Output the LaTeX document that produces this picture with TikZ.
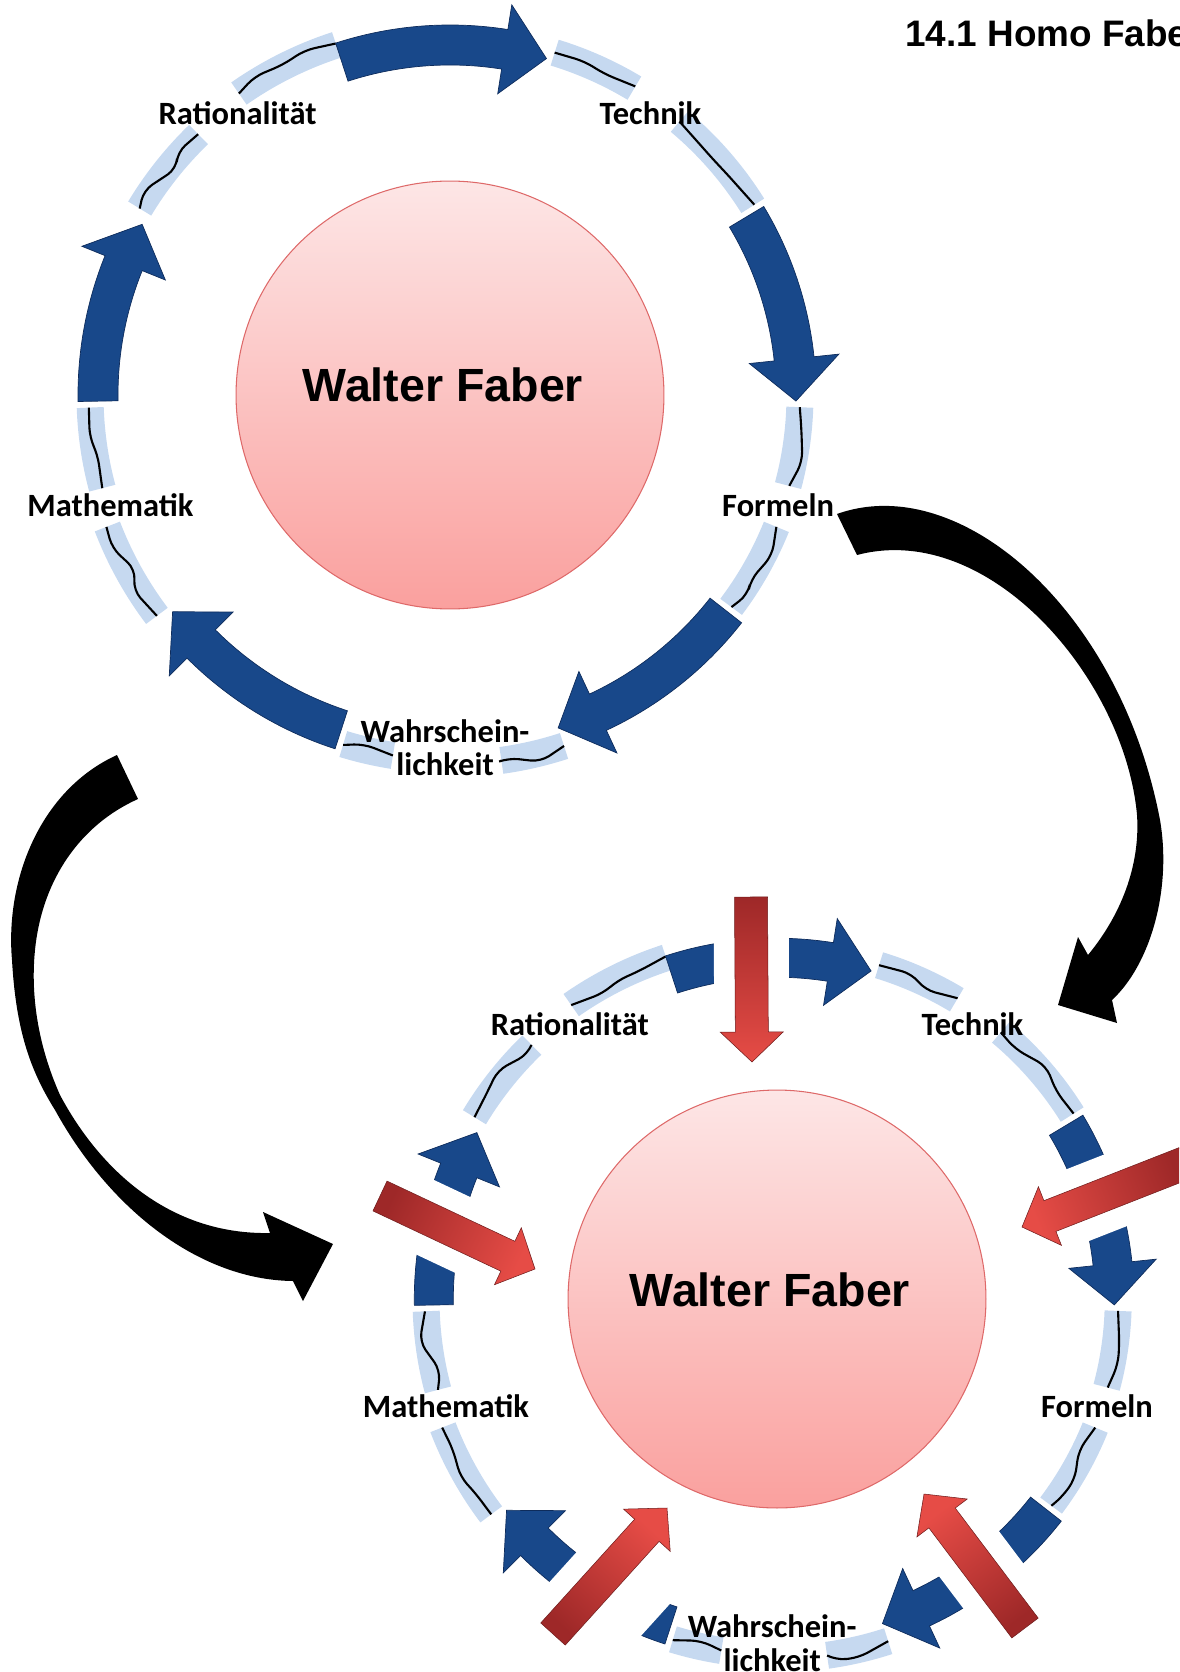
\documentclass[tikz,border=0pt]{standalone}
\usepackage{fontspec}
\newfontfamily\calibri{Carlito}
\newfontfamily\arial{Liberation Sans}
\usepackage{tikz}
\usetikzlibrary{calc,positioning,decorations.pathmorphing}

\definecolor{cycblue}{RGB}{24,72,138}
\definecolor{cycblueedge}{RGB}{14,44,92}
\definecolor{squigblue}{RGB}{198,217,240}
\definecolor{pinktop}{RGB}{253,230,230}
\definecolor{pinkbot}{RGB}{250,160,158}
\definecolor{pinkedge}{RGB}{222,105,105}
\definecolor{reddark}{RGB}{158,40,40}
\definecolor{redlight}{RGB}{230,76,70}

% arrow of the cycle: tail angle, tip angle, radius
\newcommand{\cycarrow}[3]{%
  \path[cyc] (#1:#3+20) arc[start angle=#1,end angle=#2+7,radius=#3+20] -- (#2+7:#3+45) -- (#2:#3) -- (#2+7:#3-45) -- (#2+7:#3-20) arc[start angle=#2+7,end angle=#1,radius=#3-20] -- cycle;}
% squiggle between arrow and label: from angle, to angle, radius
\newcommand{\squig}[3]{%
  \draw[squigband] (#1:#3) arc[start angle=#1,end angle=#2,radius=#3];
  \draw[squigline] (#1:#3) arc[start angle=#1,end angle=#2,radius=#3];}
% red arrow into the core: tail, tip, shading angle
\newcommand{\inarrow}[3]{%
  \coordinate (nk) at ($(#2)!0.6cm!(#1)$);
  \path[inred,shading angle=#3] ($(#1)!0.33cm!90:(#2)$) -- ($(nk)!0.33cm!90:(#2)$) -- ($(nk)!0.63cm!90:(#2)$) -- (#2) -- ($(nk)!0.63cm!-90:(#2)$) -- ($(nk)!0.33cm!-90:(#2)$) -- ($(#1)!0.33cm!-90:(#2)$) -- cycle;}

\begin{document}
\begin{tikzpicture}[x=0.02cm,y=-0.02cm]
	\tikzstyle{cyc} = [fill=cycblue,draw=cycblueedge,line width=0.4pt]
	\tikzstyle{squigband} = [draw=squigblue,line width=0.54cm]
	\tikzstyle{squigline} = [draw=black,line width=1.2pt,decorate,decoration={random steps,segment length=0.5cm,amplitude=0.19cm},rounded corners=0.2cm]
	\tikzstyle{lbl} = [font=\calibri\bfseries\fontsize{18.5}{19}\selectfont,inner sep=0pt,align=center]
	\tikzstyle{core} = [circle,inner sep=0pt,top color=pinktop,bottom color=pinkbot,draw=pinkedge,line width=0.6pt]
	\tikzstyle{corename} = [font=\arial\bfseries\fontsize{26.5}{30}\selectfont,inner sep=0pt]
	\tikzstyle{inred} = [top color=reddark,bottom color=redlight,draw=reddark!70!black,line width=0.3pt]
	\tikzstyle{gapband} = [draw=white,line width=1.5cm]
	\tikzstyle{bigarrow} = [fill=black]
	
	\useasboundingbox (0,0) rectangle (1179,1672);
	\clip (0,0) rectangle (1179,1672);
	\pgfmathsetseed{11}
	
	\node[anchor=base west,font=\arial\bfseries\fontsize{21}{24}\selectfont,inner sep=0pt] (title) at (905,47) {14.1 Homo Faber};
	
	% upper cycle
	\begin{scope}[shift={(450,395)},yscale=-1]
		\squig{73}{59}{358}
		\squig{50}{32}{357}
		\squig{-2}{-15}{350}
		\squig{-22}{-37}{352}
		\squig{-72}{-82}{369}
		\squig{-99}{-107}{365}
		\squig{-143}{-159}{367}
		\squig{195}{182}{360}
		\squig{149}{134}{362}
		\squig{125}{108}{368}
		
		\cycarrow{108}{74}{350}
		\cycarrow{31}{-1}{346}
		\cycarrow{-38}{-72}{350}
		\cycarrow{-108}{-142}{352}
		\cycarrow{181}{151}{352}
		
		\node[core,minimum size=8.56cm] (C1) at (0,0) {};
		\node[lbl] (R1) at (127:353) {Rationalität};
		\node[lbl] (T1) at (54.6:346) {Technik};
		\node[lbl] (F1) at (-18.5:346) {Formeln};
		\node[lbl] (W1) at (-90.8:353) {Wahrschein-\\lichkeit};
		\node[lbl] (M1) at (198:357) {Mathematik};
	\end{scope}
	\node[corename] (N1) at (443,385) {Walter Faber};
	
	% red arrows of the lower cycle
	\coordinate (rt1) at (751,897);  \coordinate (rh1) at (752,1062);
	\coordinate (rt2) at (1185,1163); \coordinate (rh2) at (1022,1227);
	\coordinate (rt3) at (1025,1628); \coordinate (rh3) at (924,1494);
	\coordinate (rt4) at (553,1634);  \coordinate (rh4) at (667,1508);
	\coordinate (rt5) at (380,1196);  \coordinate (rh5) at (535,1269);
	
	% lower cycle
	\begin{scope}[shift={(777,1299)},yscale=-1,scale=0.975]
		\squig{73}{59}{358}
		\squig{50}{32}{357}
		\squig{-2}{-15}{350}
		\squig{-22}{-37}{352}
		\squig{-72}{-82}{369}
		\squig{-99}{-107}{365}
		\squig{-143}{-159}{367}
		\squig{195}{182}{360}
		\squig{149}{134}{362}
		\squig{125}{108}{368}
		
		\cycarrow{108}{74}{350}
		\cycarrow{31}{-1}{346}
		\cycarrow{-38}{-72}{350}
		\cycarrow{-108}{-142}{352}
		\cycarrow{181}{151}{352}
		
		% gaps where the red arrows break the cycle
		\foreach \a in {1,...,5}
			\draw[gapband] (rt\a) -- (rh\a);
		\draw[gapband] ([shift={(22,-20)}]rt4) -- ([shift={(22,-20)}]rh4);
		
		\node[core,minimum size=8.36cm] (C2) at (0,0) {};
		\node[lbl] (R2) at (127:353) {Rationalität};
		\node[lbl] (T2) at (54.6:346) {Technik};
		\node[lbl] (F2) at (-18.5:346) {Formeln};
		\node[lbl] (W2) at (-90.8:353) {Wahrschein-\\lichkeit};
		\node[lbl] (M2) at (198:357) {Mathematik};
	\end{scope}
	\node[corename] (N2) at (770,1290) {Walter Faber};
	
	\inarrow{rt1}{rh1}{0}
	\inarrow{rt2}{rh2}{-68.6}
	\inarrow{rt3}{rh3}{217}
	\inarrow{rt4}{rh4}{137.9}
	\inarrow{rt5}{rh5}{64.8}
	
	% black arrows from the upper to the lower cycle
	\path[bigarrow] (837,514) .. controls (960,470) and (1120,610) .. (1160,820) .. controls (1172,890) and (1150,965) .. (1112,1000) -- (1117,1023) -- (1058,1005) -- (1078,937) -- (1088,955) .. controls (1125,910) and (1140,860) .. (1137,815) .. controls (1125,680) and (990,520) .. (857,555) -- cycle;
	\path[bigarrow] (117,755) .. controls (40,790) and (5,880) .. (12,960) .. controls (16,1030) and (30,1070) .. (55,1110) .. controls (110,1210) and (200,1280) .. (293,1281) -- (303,1301) -- (333,1244) -- (263,1212) -- (270,1233) .. controls (170,1235) and (100,1170) .. (60,1095) .. controls (40,1050) and (30,1000) .. (35,950) .. controls (42,880) and (80,825) .. (138,799) -- cycle;
	
\end{tikzpicture}
\end{document}
